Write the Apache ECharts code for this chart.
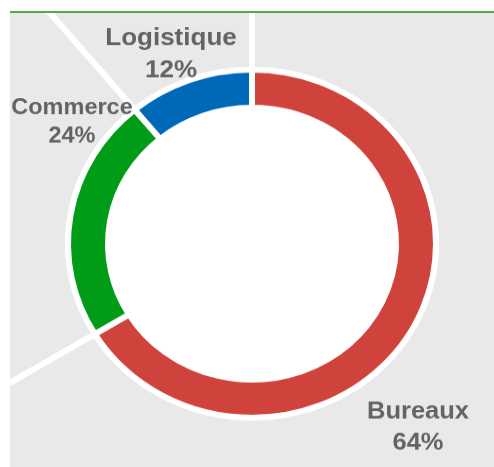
<!DOCTYPE html>
<html>
<head>
<meta charset="utf-8">
<script src="https://cdn.jsdelivr.net/npm/echarts@6/dist/echarts.min.js"></script>
<style>
  html, body { margin: 0; padding: 0; background: #fff; }
  #frame {
    position: absolute; left: 10px; top: 11px; width: 484px; height: 454px;
    background: #e9e9e9; border-top: 2px solid #5aa64b;
  }
  /* the source picture is slightly squashed vertically */
  #chart {
    position: absolute; left: 10px; top: 13px; width: 484px; height: 480px;
    transform: scaleY(0.9453); transform-origin: 0 0;
  }
</style>
</head>
<body>
<div id="frame"></div>
<div id="chart"></div>
<script>
// categories, clockwise from 12 o'clock
const categories = ['Bureaux', 'Commerce', 'Logistique']
// arc sizes as measured on the ring
const shares = [66.3, 22.7, 11.0]
// percentages as printed on the labels
const shareLabels = ['64%', '24%', '12%']

const colors = ['#d0433c', '#009c18', '#0068b8']
const center = [242, 244]
// label block centres and font sizes (layout only)
const labelPos = [[408, 438], [62, 116], [161, 44]]
const labelFont = [25.5, 23.5, 26]
const labelLH = [33, 30, 34]

const chart = echarts.init(document.getElementById('chart'))

const pieData = categories.map((name, i) => ({ name: name, value: shares[i] }))

chart.setOption({
  animation: false,
  series: [
    {
      // white separators running out to the frame edge
      type: 'pie',
      silent: true,
      center: center,
      radius: [0, 800],
      startAngle: 90,
      label: { show: false },
      labelLine: { show: false },
      itemStyle: { color: 'transparent', borderColor: '#ffffff', borderWidth: 6 },
      data: pieData
    },
    {
      // white hole + outer white ring
      type: 'pie',
      silent: true,
      center: center,
      radius: [0, 187],
      label: { show: false },
      labelLine: { show: false },
      itemStyle: { color: '#ffffff' },
      data: [{ value: 1, name: '' }]
    },
    {
      type: 'pie',
      center: center,
      radius: [144, 184],
      startAngle: 90,
      avoidLabelOverlap: false,
      itemStyle: { borderColor: '#ffffff', borderWidth: 6 },
      color: colors,
      label: {
        show: true,
        position: 'outside',
        fontFamily: '"Liberation Sans", Arial, sans-serif',
        fontWeight: 'bold',
        color: '#636363',
        align: 'center',
        formatter: p => p.name + '\n' + shareLabels[p.dataIndex]
      },
      labelLine: { show: false },
      labelLayout: p => ({
        x: labelPos[p.dataIndex][0],
        y: labelPos[p.dataIndex][1],
        align: 'center',
        verticalAlign: 'middle'
      }),
      data: pieData.map((d, i) => ({
        name: d.name,
        value: d.value,
        label: { fontSize: labelFont[i], lineHeight: labelLH[i] }
      }))
    }
  ]
})
</script>
</body>
</html>
